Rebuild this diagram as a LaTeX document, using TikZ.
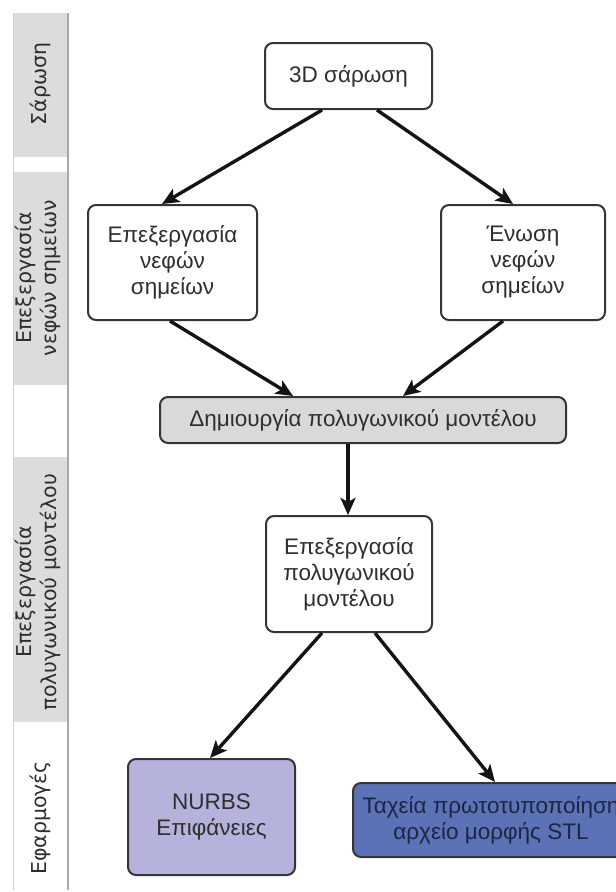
\documentclass[tikz,border=0pt]{standalone}
\usepackage{fontspec}
\setmainfont{Liberation Sans}
\newfontfamily\bandfont{DejaVu Sans}
\usetikzlibrary{arrows.meta,calc}

\definecolor{bandgray}{HTML}{DCDCDC}
\definecolor{bandline}{HTML}{A8A8A8}
\definecolor{boxline}{HTML}{353535}
\definecolor{boxtext}{HTML}{2E2E2E}
\definecolor{meshfill}{HTML}{D9D9D9}
\definecolor{nurbsfill}{HTML}{B5B2DB}
\definecolor{stlfill}{HTML}{5C72B6}
\definecolor{stltext}{HTML}{1E2540}

\tikzset{
  stepbox/.style={draw=boxline, line width=2pt, rounded corners=8pt, fill=white,
    inner sep=0pt, align=center, text=boxtext,
    font=\fontsize{22.5}{26}\selectfont},
  flow/.style={draw=black!92, line width=3.4pt,
    -{Stealth[length=17pt,width=15pt,inset=4pt]}},
  bandlbl/.style={rotate=90, align=center, text=boxtext, inner sep=0pt,
    font=\bandfont\fontsize{20.5}{25}\selectfont},
}

\begin{document}
\begin{tikzpicture}[x=1pt,y=-1pt]
\useasboundingbox (0,0) rectangle (616,892);
\fill[white] (0,0) rectangle (616,892);

% phase column on the left
\fill[bandgray] (13,13) rectangle (68,157);
\fill[bandgray] (13,172) rectangle (68,385);
\fill[bandgray] (13,457) rectangle (68,722);
\draw[bandline!50, line width=0.8pt] (13,13) -- (13,890);
\draw[bandline, line width=1.2pt] (68,13) -- (68,890);

\node[bandlbl] (lscan) at (40,84) {Σάρωση};
\node[bandlbl] (lcloud) at (38,278) {Επεξεργασία\\νεφών σημείων};
\node[bandlbl] (lmesh) at (38,592) {Επεξεργασία\\πολυγωνικού μοντέλου};
\node[bandlbl] (lapps) at (40,818) {Εφαρμογές};

% process boxes
\node[stepbox, minimum width=167pt, minimum height=66pt] (scan) at (348.5,76) {3D σάρωση};
\node[stepbox, minimum width=169pt, minimum height=115pt] (proc) at (172.5,262.5)
  {Επεξεργασία\\νεφών\\σημείων};
\node[stepbox, minimum width=164pt, minimum height=115pt] (merge) at (523,262.5)
  {Ένωση\\νεφών\\σημείων};
\node[stepbox, fill=meshfill, minimum width=406pt, minimum height=46pt] (mesh) at (363,420)
  {Δημιουργία πολυγωνικού μοντέλου};
\node[stepbox, minimum width=166pt, minimum height=116pt] (edit) at (349,574)
  {Επεξεργασία\\πολυγωνικού\\μοντέλου};
\node[stepbox, fill=nurbsfill, minimum width=167pt, minimum height=116pt] (nurbs) at (211.5,817)
  {NURBS\\Επιφάνειες};
\node[stepbox, fill=stlfill, text=stltext, minimum width=276pt, minimum height=74pt] (stl) at (491,820)
  {Ταχεία πρωτοτυποποίηση\\αρχείο μορφής STL};

% connectors
\draw[flow] ($(scan.south)+(-26.5,0)$) -- ($(proc.north)+(-10.5,0)$);
\draw[flow] ($(scan.south)+(28.5,0)$) -- ($(merge.north)+(-10,0)$);
\draw[flow] ($(proc.south)+(-2.5,0)$) -- ($(mesh.north)+(-70,0)$);
\draw[flow] ($(merge.south)+(-20,0)$) -- ($(mesh.north)+(40,0)$);
\draw[flow] ($(mesh.south)+(-15,0)$) -- ($(edit.north)+(-1,0)$);
\draw[flow] ($(edit.south)+(-27,0)$) -- ($(nurbs.north)+(-1.5,0)$);
\draw[flow] ($(edit.south)+(26,0)$) -- ($(stl.north)+(4,0)$);
\end{tikzpicture}
\end{document}
